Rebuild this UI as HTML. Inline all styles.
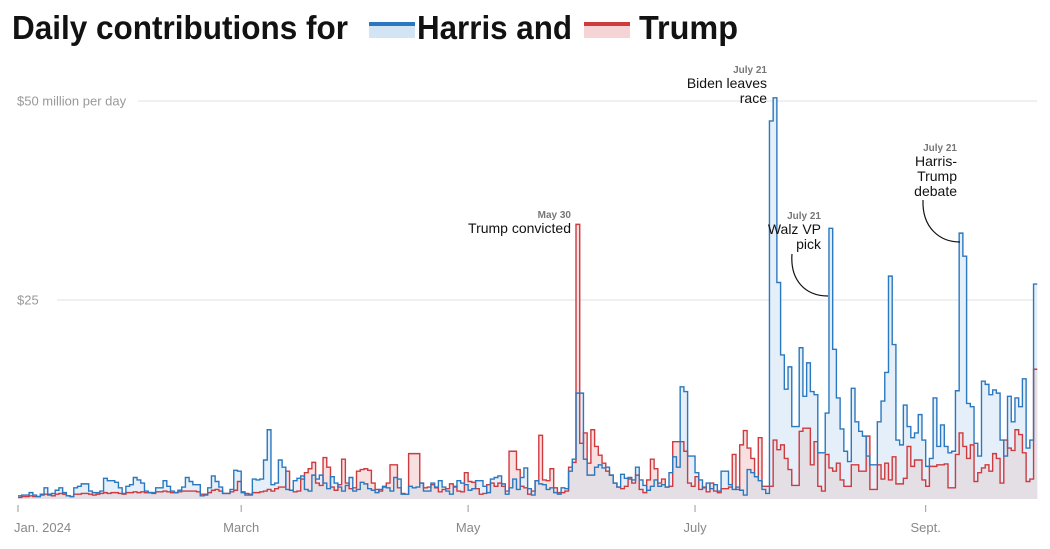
<!DOCTYPE html>
<html><head><meta charset="utf-8"><style>
html,body{margin:0;padding:0;background:#fff;}
svg{display:block;font-family:"Liberation Sans",sans-serif;}
</style></head><body>
<svg id="chart" width="1050" height="549" viewBox="0 0 1050 549">
  <g>
    <text x="12" y="39" font-size="33" font-weight="bold" fill="#121212" textLength="336" lengthAdjust="spacingAndGlyphs">Daily contributions for</text>
    <rect x="369" y="22" width="46" height="16" fill="#d3e4f4"/>
    <rect x="369" y="22" width="46" height="4" fill="#2a78c0"/>
    <text x="417" y="39" font-size="33" font-weight="bold" fill="#121212" textLength="155" lengthAdjust="spacingAndGlyphs">Harris and</text>
    <rect x="584" y="22" width="46" height="16" fill="#f6d4d6"/>
    <rect x="584" y="22" width="46" height="4" fill="#cf3a3f"/>
    <text x="639" y="39" font-size="33" font-weight="bold" fill="#121212" textLength="99" lengthAdjust="spacingAndGlyphs">Trump</text>
  </g>
  <g id="grid"></g>
  <g id="areas"></g>
  <g id="lines"></g>
  <g id="xaxis"></g>
  <g fill="#121212">
    <text x="571" y="218" font-size="10" font-weight="bold" fill="#777" text-anchor="end">May 30</text>
    <text x="571" y="233" font-size="14" text-anchor="end">Trump convicted</text>
    <text x="767" y="73" font-size="10" font-weight="bold" fill="#777" text-anchor="end">July 21</text>
    <text x="767" y="88" font-size="14" text-anchor="end">Biden leaves</text>
    <text x="767" y="103" font-size="14" text-anchor="end">race</text>
    <text x="821" y="219" font-size="10" font-weight="bold" fill="#777" text-anchor="end">July 21</text>
    <text x="821" y="234" font-size="14" text-anchor="end">Walz VP</text>
    <text x="821" y="249" font-size="14" text-anchor="end">pick</text>
    <path d="M792,254 C790,280 805,296 828,296" fill="none" stroke="#121212" stroke-width="1.2"/>
    <text x="957" y="151" font-size="10" font-weight="bold" fill="#777" text-anchor="end">July 21</text>
    <text x="957" y="166" font-size="14" text-anchor="end">Harris-</text>
    <text x="957" y="181" font-size="14" text-anchor="end">Trump</text>
    <text x="957" y="196" font-size="14" text-anchor="end">debate</text>
    <path d="M923,200 C922,228 940,242 960,242" fill="none" stroke="#121212" stroke-width="1.2"/>
  </g>
</svg>
<script>
const harris = [
0.4,0.5,0.5,0.8,0.5,0.3,0.6,1.4,0.6,0.7,
1.1,1.4,0.8,0.4,0.3,1.4,1.6,1.9,1.9,1.0,
0.8,0.8,1.0,2.6,2.3,2.3,2.1,1.4,0.7,1.6,
1.8,2.7,2.4,2.0,1.0,0.8,0.8,1.4,1.4,2.3,
1.6,1.0,0.8,1.1,1.5,2.7,2.2,1.8,1.8,0.4,
0.5,1.4,2.9,2.2,1.5,0.7,0.7,1.2,3.6,3.5,
0.8,0.5,0.5,2.5,2.4,2.5,4.9,8.7,1.8,2.0,
4.9,4.0,1.2,1.1,2.3,2.6,2.9,1.2,1.0,3.0,
2.5,3.0,2.0,1.3,2.8,2.0,1.5,1.0,1.7,2.7,
1.0,1.2,2.1,1.9,1.3,1.1,0.8,1.2,1.6,1.4,
1.0,2.7,2.5,0.6,0.6,1.6,1.4,1.5,2.0,1.0,
1.0,2.0,1.5,2.3,1.5,1.0,0.6,1.5,2.3,2.0,
1.8,1.1,1.3,2.3,2.3,1.6,0.8,2.5,2.7,2.9,
1.9,0.6,1.4,2.5,1.2,2.7,3.9,1.3,0.5,2.3,
1.9,1.8,1.2,1.4,0.8,0.6,1.4,1.3,3.5,5.0,
13.3,13.3,5.0,3.0,3.0,4.0,4.3,3.9,4.0,3.0,
2.0,1.5,3.1,2.6,2.7,2.4,4.0,2.4,1.7,1.1,
1.6,2.4,1.6,1.8,1.5,3.3,5.3,4.0,14.1,13.5,
5.4,5.4,3.3,2.4,1.4,2.0,1.3,1.8,1.0,3.5,
3.5,1.8,1.2,1.5,1.1,0.5,3.7,3.3,2.8,2.3,
1.2,0.7,47.5,50.4,27.2,18.1,13.8,16.6,9.1,9.1,
19.0,12.9,17.1,13.5,13.1,5.8,5.8,10.8,34.0,18.8,
12.7,8.8,6.0,4.7,13.9,9.7,8.5,7.9,5.4,4.3,
4.3,9.7,12.3,15.9,28.0,19.4,7.4,6.8,11.8,9.1,
7.7,8.3,10.6,7.4,4.1,5.1,12.7,6.6,9.3,6.6,
5.8,6.0,13.6,33.4,30.5,12.0,11.6,7.0,5.4,14.8,
14.4,13.1,13.7,13.3,7.4,5.4,12.9,9.7,12.7,11.6,
15.1,6.4,7.4,27.0];
const trump = [
0.2,0.3,0.3,0.4,0.3,0.3,0.5,0.6,0.5,0.4,
0.6,0.7,0.6,0.4,0.3,0.6,0.6,0.7,0.7,0.6,
0.5,0.6,0.7,0.8,0.7,0.8,0.8,0.7,0.6,0.8,
0.8,0.9,0.8,0.9,0.8,0.8,0.7,0.9,0.9,1.0,
0.9,0.8,0.8,0.9,1.0,1.0,1.0,1.0,0.9,0.6,
0.6,0.8,1.1,1.2,1.0,0.7,0.7,0.9,1.1,2.2,
0.9,0.7,0.6,0.8,0.8,0.9,1.0,1.2,1.0,1.3,
1.5,1.5,3.5,1.1,0.9,1.0,2.5,3.3,3.8,4.6,
2.0,1.7,5.2,4.0,1.5,1.1,1.8,5.0,2.0,1.3,
1.4,3.5,3.7,3.8,3.6,2.0,1.2,1.0,1.5,2.0,
4.3,4.3,1.4,0.7,0.6,5.7,5.7,5.7,2.0,1.4,
1.5,1.8,1.4,0.9,1.2,1.3,1.9,1.6,1.0,0.9,
3.3,2.2,2.1,1.3,0.6,0.7,1.8,2.0,1.6,2.0,
1.6,1.0,6.0,6.0,3.7,1.6,1.4,0.6,1.0,2.3,
8.0,2.4,2.3,3.8,1.4,0.8,0.8,1.0,4.0,4.6,
34.5,7.0,8.3,4.5,8.7,6.6,5.5,4.5,3.5,3.0,
2.0,1.5,1.3,1.6,2.5,2.0,3.0,1.2,0.8,2.4,
5.0,3.8,2.0,2.5,1.5,1.6,7.2,7.2,7.2,6.0,
2.0,1.6,2.8,1.2,1.5,0.9,2.0,1.0,0.8,1.3,
1.3,1.5,5.6,1.2,6.8,8.6,6.4,5.1,2.8,7.7,
1.6,1.6,1.6,7.4,6.2,6.8,5.1,3.7,1.7,1.7,
8.5,8.9,8.9,4.3,7.2,1.6,1.0,5.6,3.9,3.5,
4.5,2.4,1.6,1.6,4.3,4.3,3.5,3.5,7.9,1.2,
1.2,4.3,2.5,4.5,2.4,5.3,1.9,1.9,2.6,6.6,
4.1,4.9,4.9,2.4,1.6,4.1,4.1,4.3,4.3,4.4,
1.4,1.4,5.6,8.3,6.6,5.1,6.8,2.2,3.3,3.9,
4.3,3.5,5.7,5.1,2.0,7.4,6.4,6.1,8.7,8.1,
5.8,2.2,2.5,16.3];
const yTickValues = [25, 50];
const yTickLabels = ["$25", "$50 million per day"];
const monthLabels = ["Jan. 2024", "March", "May", "July", "Sept."];
const monthDays = [0, 60, 121, 182, 244];

const NS = "http://www.w3.org/2000/svg";
const x = d => 18 + d * 3.72;
const y = v => 499 - v * 7.96;
function mk(tag, attrs, parent) {
  const e = document.createElementNS(NS, tag);
  for (const k in attrs) e.setAttribute(k, attrs[k]);
  parent.appendChild(e);
  return e;
}
const grid = document.getElementById('grid');
yTickValues.forEach((v, i) => {
  const lbl = yTickLabels[i];
  const startX = i === 1 ? 138 : 57;
  const ln = mk('line', {x1: startX, x2: 1037, y1: y(v), y2: y(v), stroke: '#e2e2e2', 'stroke-width': 1}, grid);
  
  
  const t = mk('text', {x: 17, y: y(v) + 4.5, 'font-size': 13, fill: '#999'}, grid);
  t.textContent = lbl;
  
  
});
function stepPath(arr) {
  let d = 'M' + x(0) + ',' + y(arr[0]);
  arr.forEach((v, i) => {
    d += 'L' + x(i) + ',' + y(v) + 'L' + x(i + 1) + ',' + y(v);
  });
  return d;
}
function areaPath(arr) {
  return stepPath(arr) + 'L' + x(arr.length) + ',' + y(0) + 'L' + x(0) + ',' + y(0) + 'Z';
}
const overlap = harris.map((v, i) => Math.min(v, trump[i]));
const areas = document.getElementById('areas');
const ha = mk('path', {d: areaPath(harris), fill: '#e5eff9'}, areas);


const ta = mk('path', {d: areaPath(trump), fill: '#f8e0e1'}, areas);


const oa = mk('path', {d: areaPath(overlap), fill: '#e4dfe5'}, areas);


const lines = document.getElementById('lines');
const tl = mk('path', {d: stepPath(trump), fill: 'none', stroke: '#cf3a3f', 'stroke-width': 1.4}, lines);


const hl = mk('path', {d: stepPath(harris), fill: 'none', stroke: '#2a78c0', 'stroke-width': 1.4}, lines);


const xa = document.getElementById('xaxis');
monthDays.forEach((d, i) => {
  const tk = mk('line', {x1: x(d), x2: x(d), y1: 505, y2: 512, stroke: '#999', 'stroke-width': 1}, xa);
  
  
  const t = mk('text', {x: i === 0 ? 14 : x(d), y: 532, 'font-size': 13, fill: '#888', 'text-anchor': i === 0 ? 'start' : 'middle'}, xa);
  t.textContent = monthLabels[i];
  
  
});
</script>
</body></html>
